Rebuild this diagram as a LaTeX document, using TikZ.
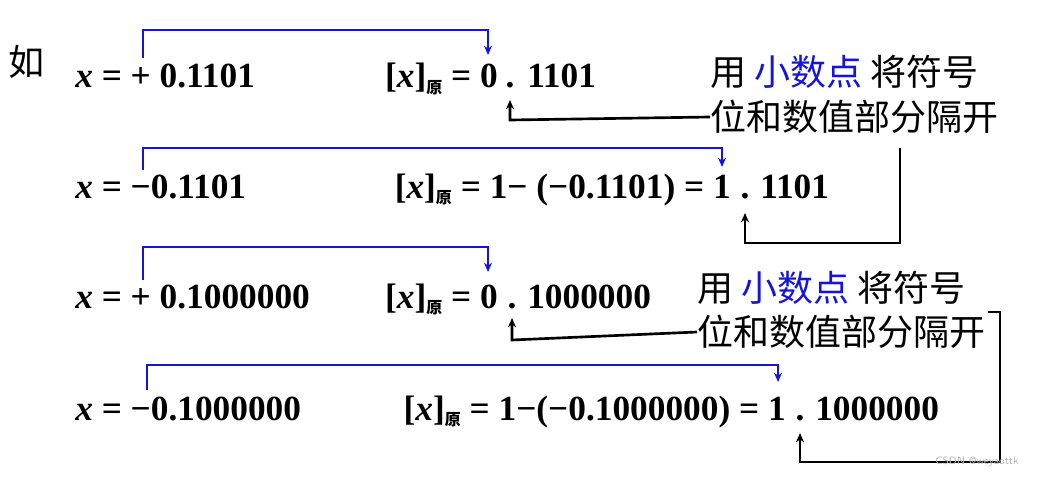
\documentclass[tikz,border=0pt]{standalone}
\usepackage{fontspec}
\setmainfont{Liberation Serif}
\newfontfamily\cjk{Noto Sans CJK SC}
\usetikzlibrary{arrows.meta}
\definecolor{myblue}{RGB}{20,20,220}
\newcommand{\xx}{\textbf{\textit{x}}}
\newcommand{\yuan}{\raisebox{-0.35ex}{\fontsize{12}{13}\selectfont\cjk 原}}
\newcommand{\xyuan}{[\xx]\yuan}
\begin{document}
\begin{tikzpicture}[x=0.75pt,y=-0.75pt,
  t/.style={inner sep=0pt,anchor=base west,font=\fontsize{26.5}{30}\selectfont\bfseries},
  te/.style={t,anchor=base east},
  dt/.style={t,anchor=base},
  cn/.style={inner sep=0pt,anchor=west,font=\fontsize{27}{31}\selectfont\cjk},
  bl/.style={myblue,line width=2pt,-{Stealth[length=7pt,width=6pt]}},
  bk/.style={black,line width=2pt,-{Stealth[length=7pt,width=6pt]}}]
\useasboundingbox (0,0) rectangle (1055,478);
\node[cn] (ru) at (8,62) {如};
% row 1
\node[t] (a1) at (75,88) {\xx\ = + 0.1101};
\node[dt] (d1) at (510,88) {.};
\node[te] (b1) at (498,88) {\xyuan\ = 0};
\node[t] (c1) at (527,88) {1101};
\draw[bl] (143,58) -- (143,30) -- (488,30) -- (488,55);
\node[cn] (n1) at (710,72) {用 \textcolor{myblue}{小数点} 将符号};
\node[cn] (n2) at (710,117) {位和数值部分隔开};
\draw[bk] (n2.west) -- (510,120) -- (510,100);
% row 2
\node[t] (a2) at (75,198) {\xx\ = −0.1101};
\node[dt] (d2) at (745,198) {.};
\node[te] (b2) at (731,198) {\xyuan\ = 1− (−0.1101) = 1};
\node[t] (c2) at (760,198) {1101};
\draw[bl] (143,170) -- (143,148) -- (722,148) -- (722,167);
\draw[bk] (900,148) -- (900,243) -- (745,243) -- (745,213);
% row 3
\node[t] (a3) at (75,308) {\xx\ = + 0.1000000};
\node[dt] (d3) at (512,308) {.};
\node[te] (b3) at (498,308) {\xyuan\ = 0};
\node[t] (c3) at (527,308) {1000000};
\draw[bl] (143,280) -- (143,247) -- (488,247) -- (488,272);
\node[cn] (n3) at (697,288) {用 \textcolor{myblue}{小数点} 将符号};
\node[cn] (n4) at (697,332) {位和数值部分隔开};
\draw[bk] (n4.west) -- (512,340) -- (512,318);
\coordinate (r0) at (988,312);
\draw[bk] (r0) -- (1000,312) -- (1000,462) -- (800,462) -- (800,433);
% row 4
\node[t] (a4) at (75,420) {\xx\ = −0.1000000};
\node[dt] (d4) at (800,420) {.};
\node[te] (b4) at (786,420) {\xyuan\ = 1−(−0.1000000) = 1};
\node[t] (c4) at (815,420) {1000000};
\draw[bl] (147,390) -- (147,365) -- (778,365) -- (778,382);
\node[inner sep=0pt,anchor=west,text=gray!60,font=\fontsize{8}{9}\selectfont\sffamily] (wm) at (935,462) {CSDN @weyaottk};
\end{tikzpicture}
\end{document}
